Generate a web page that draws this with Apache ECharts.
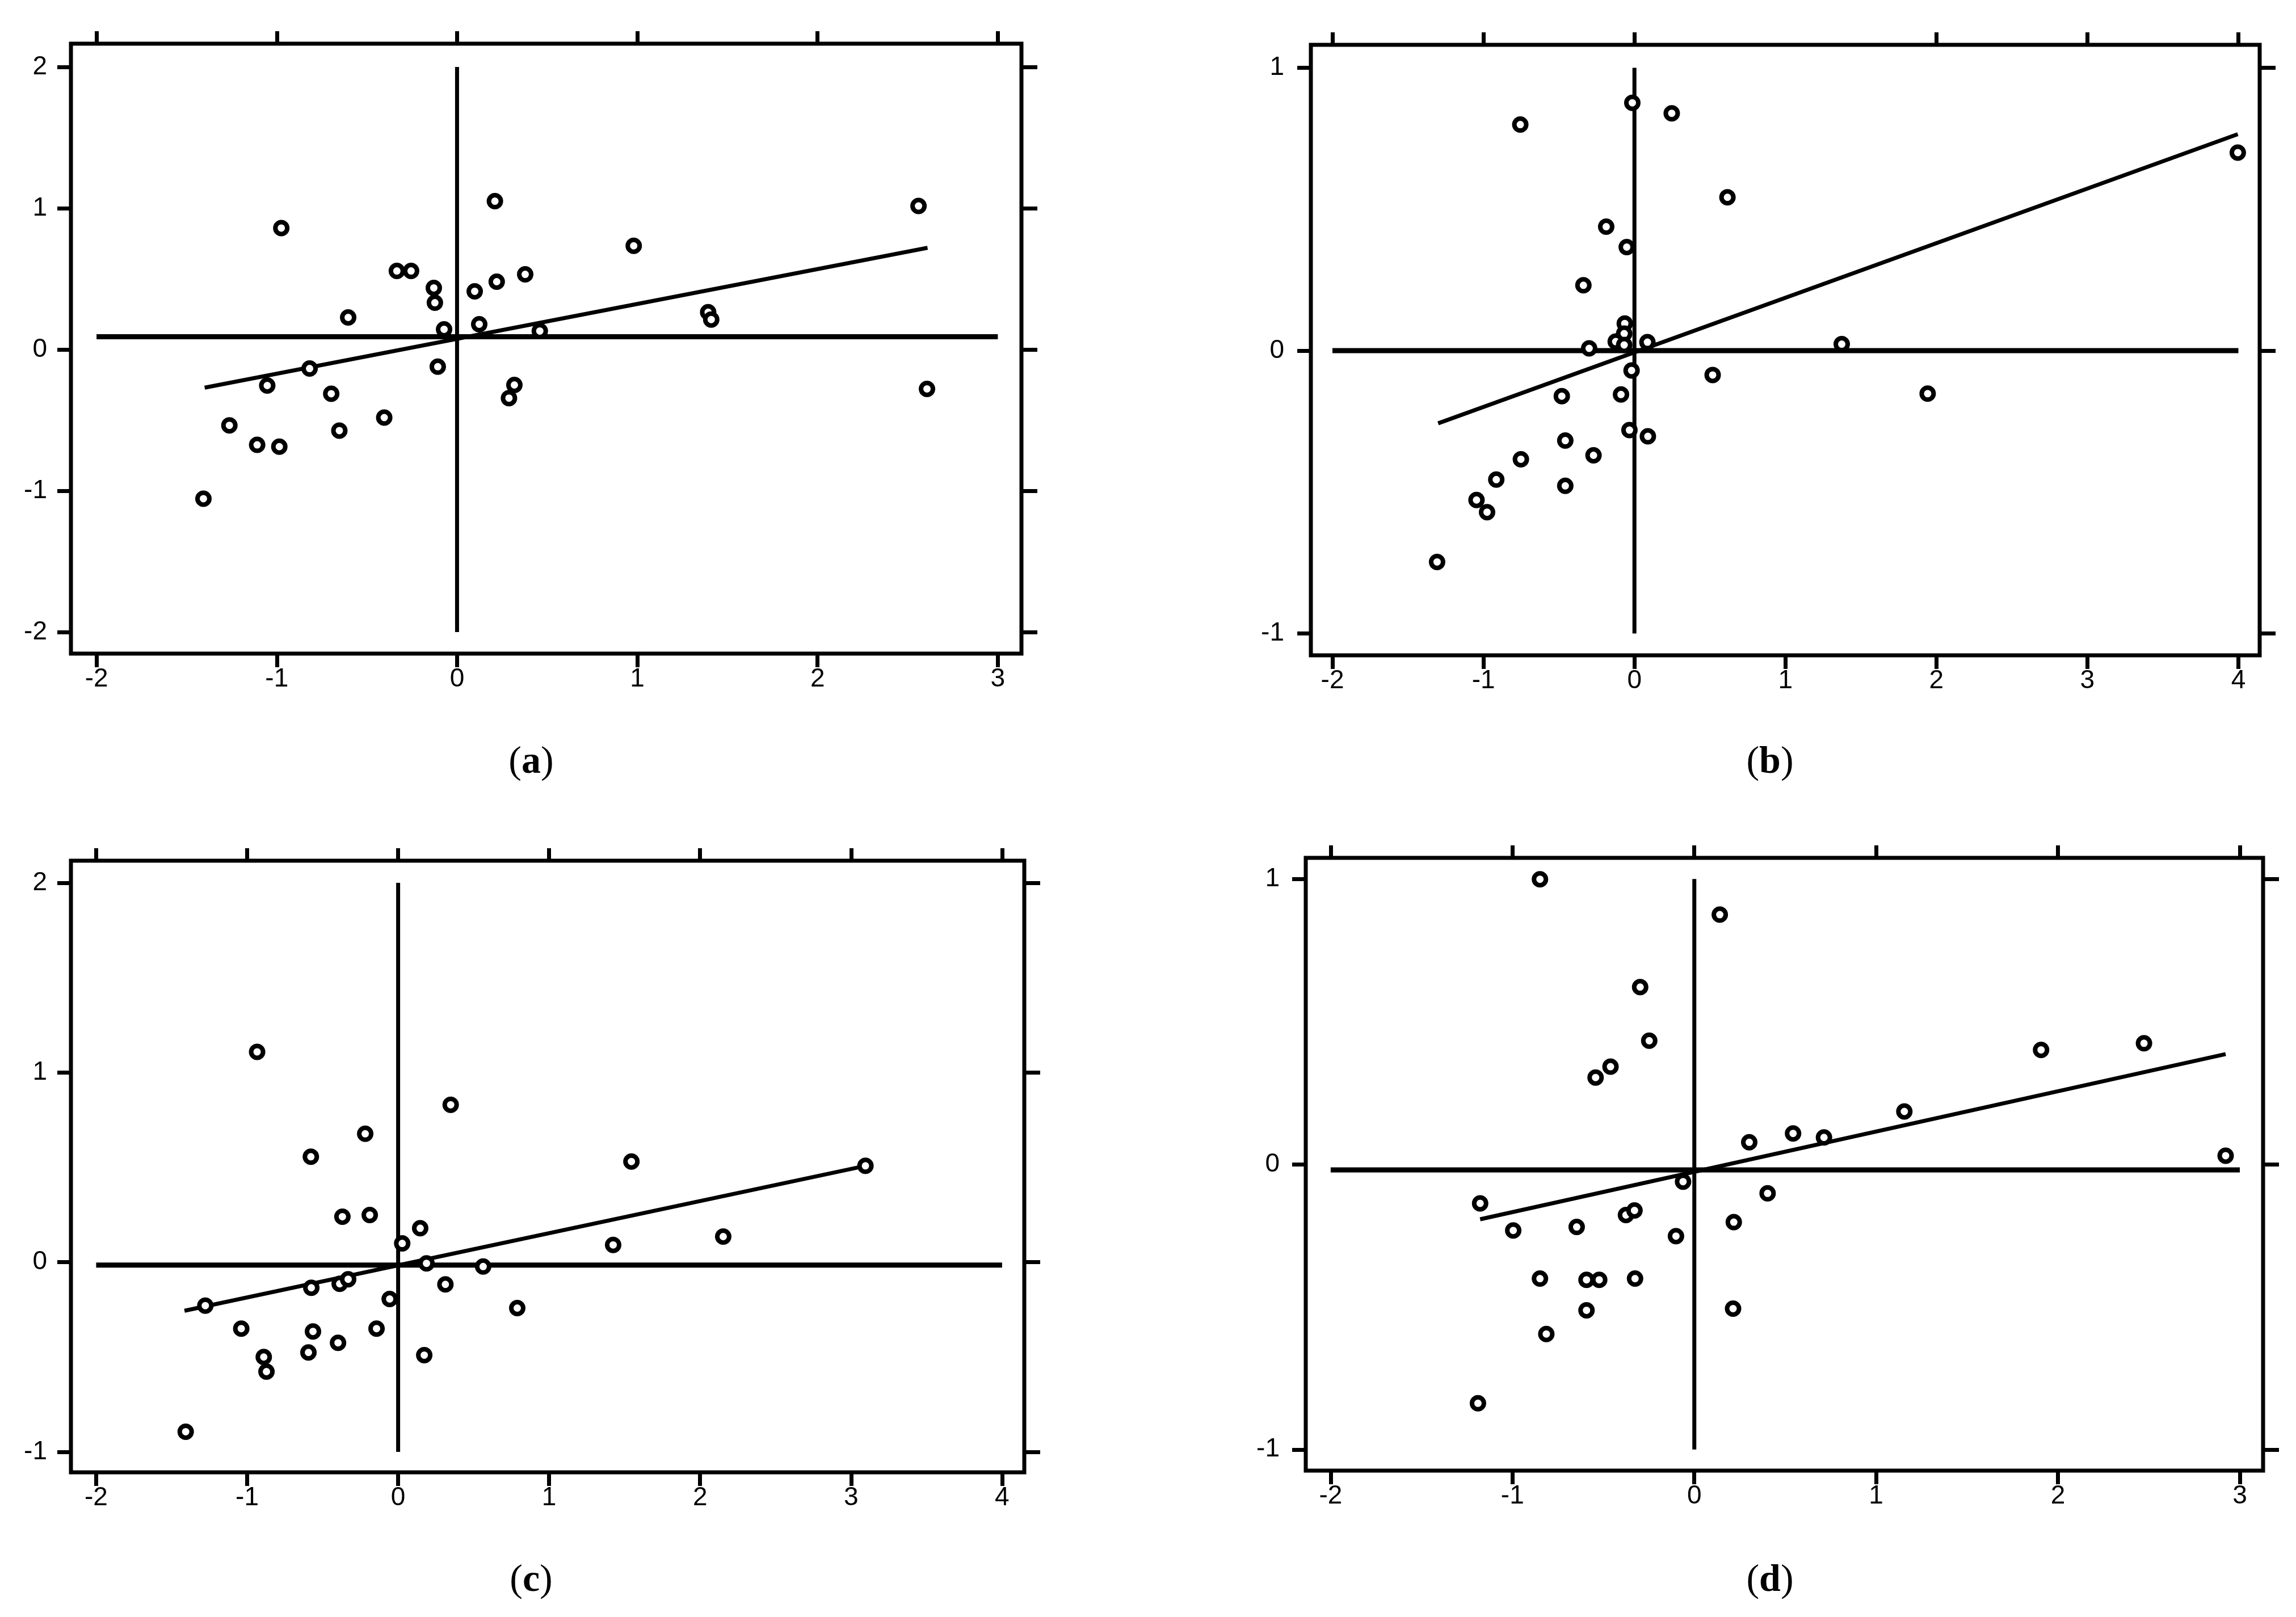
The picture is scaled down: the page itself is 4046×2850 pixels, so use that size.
<!DOCTYPE html>
<html>
<head>
<meta charset="utf-8">
<script src="https://cdn.jsdelivr.net/npm/echarts@6/dist/echarts.min.js"></script>
<style>
html,body{margin:0;padding:0;background:#fff;}
#chart{width:4046px;height:2850px;}
</style>
</head>
<body>
<div id="chart"></div>
<script>
// ---------- DATA ----------
const panelLetters = ['a', 'b', 'c', 'd'];

// (a)
const aX = [-0.975, 0.21, 2.56, 0.98, -0.334, -0.255, 0.378, -0.129, 0.22, 0.098, -0.123, -0.604, -0.072, 0.123, 0.459, 1.393, 1.41, -0.107, -0.818, -1.053, -0.698, 0.318, 0.288, 2.607, -1.263, -0.404, -0.653, -1.109, -0.986, -1.407];
const aY = [0.86, 1.05, 1.016, 0.734, 0.556, 0.556, 0.532, 0.436, 0.48, 0.412, 0.331, 0.227, 0.143, 0.179, 0.131, 0.264, 0.212, -0.122, -0.135, -0.255, -0.313, -0.251, -0.344, -0.279, -0.537, -0.482, -0.574, -0.675, -0.688, -1.056];
const aFitX = [-1.40, 2.61];
const aFitY = [-0.27, 0.72];
const aMeanX = 0;
const aMeanY = 0.09;
const aXTicks = [-2, -1, 0, 1, 2, 3];
const aYTicks = [-2, -1, 0, 1, 2];

// (b)
const bX = [-0.014, 0.247, -0.756, 3.996, 0.616, -0.187, -0.051, -0.338, -0.064, -0.068, -0.124, -0.068, 0.086, -0.30, 1.373, -0.019, 0.518, -0.481, -0.089, 1.942, -0.033, 0.089, -0.458, -0.271, -0.752, -0.915, -0.458, -1.046, -0.976, -1.307];
const bY = [0.876, 0.839, 0.799, 0.700, 0.542, 0.438, 0.366, 0.231, 0.096, 0.060, 0.032, 0.02, 0.030, 0.008, 0.023, -0.070, -0.086, -0.161, -0.155, -0.152, -0.281, -0.303, -0.318, -0.370, -0.384, -0.456, -0.478, -0.528, -0.571, -0.747];
const bFitX = [-1.30, 3.996];
const bFitY = [-0.257, 0.765];
const bMeanX = 0;
const bMeanY = 0;
const bXTicks = [-2, -1, 0, 1, 2, 3, 4];
const bXTopTicks = [-2, -1, 0, 2, 3, 4];
const bYTicks = [-1, 0, 1];

// (c)
const cX = [-0.934, 0.348, -0.218, -0.578, 1.545, 3.095, -0.369, -0.188, 0.146, 0.027, 1.424, 2.153, 0.188, 0.563, -0.575, -0.387, -0.331, 0.313, -0.056, -1.277, 0.789, -1.039, -0.564, -0.143, -0.398, -0.594, 0.173, -0.89, -0.872, -1.407];
const cY = [1.109, 0.830, 0.677, 0.556, 0.531, 0.508, 0.240, 0.249, 0.179, 0.099, 0.091, 0.135, -0.006, -0.023, -0.135, -0.114, -0.090, -0.117, -0.194, -0.229, -0.242, -0.350, -0.365, -0.350, -0.425, -0.476, -0.49, -0.50, -0.577, -0.894];
const cFitX = [-1.415, 3.095];
const cFitY = [-0.256, 0.508];
const cMeanX = 0;
const cMeanY = -0.015;
const cXTicks = [-2, -1, 0, 1, 2, 3, 4];
const cYTicks = [-1, 0, 1, 2];

// (d)
const dX = [-0.849, 0.140, -0.298, -0.248, -0.461, -0.543, 1.907, 2.473, 1.155, 0.543, 0.713, 0.302, 2.922, -0.062, -1.178, 0.403, -0.376, -0.329, 0.217, -0.996, -0.647, -0.101, -0.849, -0.593, -0.523, -0.326, -0.593, -0.814, 0.213, -1.190];
const dY = [0.999, 0.875, 0.621, 0.433, 0.342, 0.304, 0.401, 0.424, 0.185, 0.108, 0.094, 0.077, 0.030, -0.061, -0.137, -0.102, -0.178, -0.162, -0.203, -0.232, -0.220, -0.252, -0.401, -0.405, -0.405, -0.401, -0.512, -0.595, -0.506, -0.838];
const dFitX = [-1.178, 2.922];
const dFitY = [-0.193, 0.386];
const dMeanX = 0;
const dMeanY = -0.02;
const dXTicks = [-2, -1, 0, 1, 2, 3];
const dYTicks = [-1, 0, 1];

// ---------- LAYOUT ----------
const panels = [
  { xs: aX, ys: aY, fx: aFitX, fy: aFitY, mx: aMeanX, my: aMeanY, xt: aXTicks, xtTop: aXTicks, yt: aYTicks,
    grid: { left: 125, top: 77, width: 1675, height: 1075 }, xr: [-2.142, 3.131], yr: [-2.153, 2.165], ym: 42, cap: [936, 1344] },
  { xs: bX, ys: bY, fx: bFitX, fy: bFitY, mx: bMeanX, my: bMeanY, xt: bXTicks, xtTop: bXTopTicks, yt: bYTicks,
    grid: { left: 2310, top: 79, width: 1672, height: 1076 }, xr: [-2.143, 4.141], yr: [-1.077, 1.081], ym: 47, cap: [3119, 1344] },
  { xs: cX, ys: cY, fx: cFitX, fy: cFitY, mx: cMeanX, my: cMeanY, xt: cXTicks, xtTop: cXTicks, yt: cYTicks,
    grid: { left: 125, top: 1517, width: 1680, height: 1078 }, xr: [-2.167, 4.147], yr: [-1.108, 2.117], ym: 42, cap: [936, 2786] },
  { xs: dX, ys: dY, fx: dFitX, fy: dFitY, mx: dMeanX, my: dMeanY, xt: dXTicks, xtTop: dXTicks, yt: dYTicks,
    grid: { left: 2301, top: 1512, width: 1687, height: 1080 }, xr: [-2.137, 3.128], yr: [-1.074, 1.074], ym: 46, cap: [3119, 2786] }
];

const FONT = '"Liberation Sans", Arial, sans-serif';
const tickStyle = { color: '#000', width: 7 };

const grids = [], xAxes = [], yAxes = [], series = [], graphics = [];

panels.forEach((p, i) => {
  grids.push(Object.assign({
    show: true, borderColor: '#000', borderWidth: 7, backgroundColor: 'rgba(0,0,0,0)',
    containLabel: false, outerBoundsMode: 'none'
  }, p.grid));

  const labelStyle = { fontSize: 46, color: '#000', fontFamily: FONT };
  const noLine = { show: false, onZero: false };

  // bottom x
  xAxes.push({
    gridIndex: i, type: 'value', position: 'bottom', min: p.xr[0], max: p.xr[1],
    axisLine: noLine, splitLine: { show: false },
    axisTick: { show: true, inside: false, length: 24, lineStyle: tickStyle, customValues: p.xt },
    axisLabel: Object.assign({ show: true, margin: 22, customValues: p.xt, formatter: v => String(v) }, labelStyle)
  });
  // top x
  xAxes.push({
    gridIndex: i, type: 'value', position: 'top', min: p.xr[0], max: p.xr[1],
    axisLine: noLine, splitLine: { show: false },
    axisTick: { show: true, inside: false, length: 22, lineStyle: tickStyle, customValues: p.xtTop },
    axisLabel: { show: false }
  });
  // left y
  yAxes.push({
    gridIndex: i, type: 'value', position: 'left', min: p.yr[0], max: p.yr[1],
    axisLine: noLine, splitLine: { show: false },
    axisTick: { show: true, inside: false, length: 24, lineStyle: tickStyle, customValues: p.yt },
    axisLabel: Object.assign({ show: true, margin: p.ym, customValues: p.yt, formatter: v => String(v) }, labelStyle)
  });
  // right y
  yAxes.push({
    gridIndex: i, type: 'value', position: 'right', min: p.yr[0], max: p.yr[1],
    axisLine: noLine, splitLine: { show: false },
    axisTick: { show: true, inside: false, length: 28, lineStyle: tickStyle, customValues: p.yt },
    axisLabel: { show: false }
  });

  const xi = i * 2, yi = i * 2;
  const xt = p.xt, yt = p.yt;

  // horizontal mean line
  series.push({
    type: 'line', xAxisIndex: xi, yAxisIndex: yi, symbol: 'none', silent: true, z: 2,
    lineStyle: { color: '#000', width: 9 },
    data: [[xt[0], p.my], [xt[xt.length - 1], p.my]]
  });
  // vertical mean line
  series.push({
    type: 'line', xAxisIndex: xi, yAxisIndex: yi, symbol: 'none', silent: true, z: 2,
    lineStyle: { color: '#000', width: 7 },
    data: [[p.mx, yt[0]], [p.mx, yt[yt.length - 1]]]
  });
  // regression line
  series.push({
    type: 'line', xAxisIndex: xi, yAxisIndex: yi, symbol: 'none', silent: true, z: 2,
    lineStyle: { color: '#000', width: 7 },
    data: [[p.fx[0], p.fy[0]], [p.fx[1], p.fy[1]]]
  });
  // points
  series.push({
    type: 'scatter', xAxisIndex: xi, yAxisIndex: yi, symbol: 'circle', symbolSize: 21, z: 3,
    itemStyle: { color: '#fff', borderColor: '#000', borderWidth: 8, opacity: 1 },
    data: p.xs.map((x, k) => [x, p.ys[k]])
  });

  graphics.push({
    type: 'text', x: p.cap[0], y: p.cap[1],
    style: {
      text: '({b|' + panelLetters[i] + '})',
      fill: '#000', fontSize: 68, fontFamily: '"Liberation Serif", "Times New Roman", serif',
      align: 'center', verticalAlign: 'middle',
      rich: { b: { fontSize: 68, fontWeight: 'bold', fontFamily: '"Liberation Serif", "Times New Roman", serif', fill: '#000' } }
    }
  });
});

const chart = echarts.init(document.getElementById('chart'), null, { renderer: 'canvas' });
chart.setOption({
  animation: false,
  backgroundColor: '#fff',
  grid: grids,
  xAxis: xAxes,
  yAxis: yAxes,
  series: series,
  graphic: graphics
});
</script>
</body>
</html>
